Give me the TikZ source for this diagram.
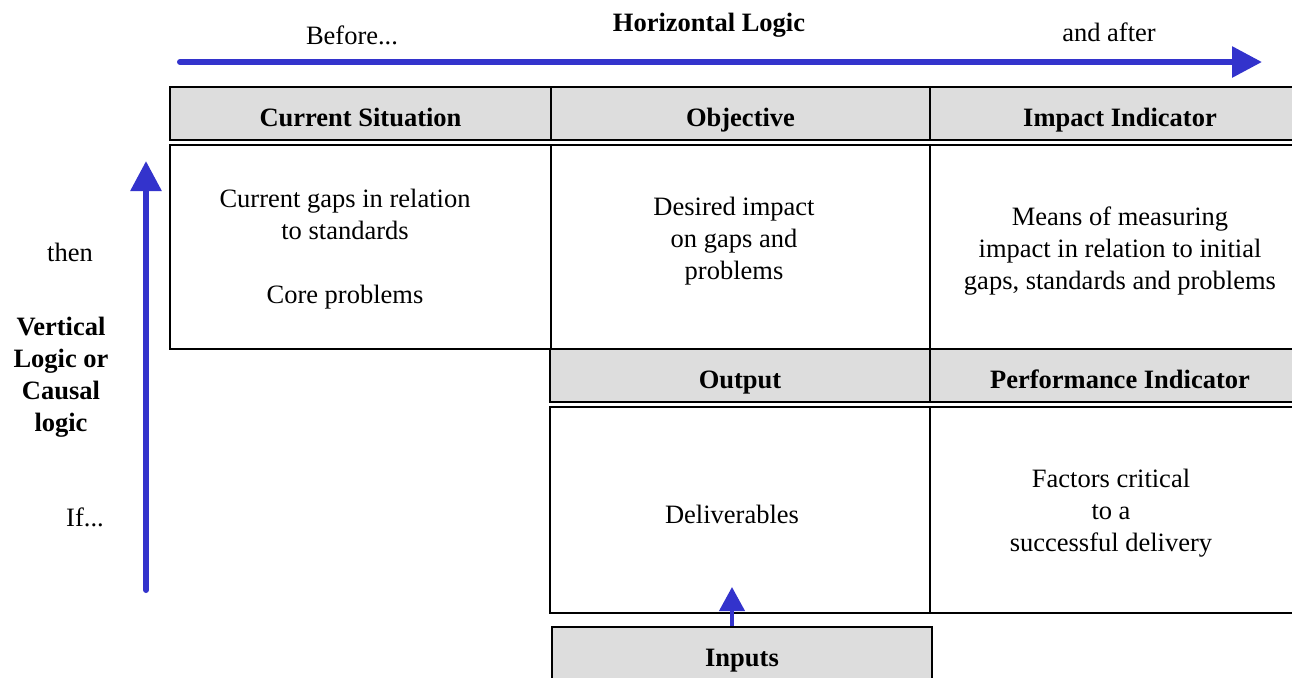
\documentclass[tikz,border=0pt]{standalone}
\usepackage{fontspec}
\setmainfont{Liberation Serif}
\usetikzlibrary{arrows.meta}
\definecolor{arrblue}{HTML}{3333CC}
\definecolor{hdrgrey}{HTML}{DDDDDD}
\tikzset{
  base/.style={font=\fontsize{13.25pt}{16pt}\selectfont},
  hdr/.style={base, draw=black, line width=1pt, fill=hdrgrey, inner sep=0pt,
    minimum height=26.5pt, text height=12.5pt, text depth=0pt,
    font=\fontsize{13.25pt}{16pt}\selectfont\bfseries},
  cell/.style={draw=black, line width=1pt, fill=white, inner sep=0pt},
  lbl/.style={base, align=center, inner sep=0pt},
  bigarr/.style={draw=arrblue, line width=3pt, line cap=round,
    -{Triangle[length=15pt,width=15pt]}},
  smallarr/.style={draw=arrblue, line width=2pt,
    -{Triangle[length=12pt,width=12.5pt]}}
}
\begin{document}
\begin{tikzpicture}[x=0.5pt,y=-0.5pt]
\useasboundingbox (0,0) rectangle (1292,677);
\clip (0,0) rectangle (1292,677);
% top labels
\node[lbl] (before) at (352,35) {Before...};
\node[lbl, font=\fontsize{13.25pt}{16pt}\selectfont\bfseries] (hlogic) at (709,25) {Horizontal Logic};
\node[lbl] (after) at (1109,32) {and after};
% horizontal arrow
\coordinate (hs) at (180,62);
\coordinate (he) at (1262,62);
\draw[bigarr] (hs) -- (he);
% header row
\node[hdr, minimum width=190.5pt] (cs) at (360.5,113.5) {Current Situation};
\node[hdr, minimum width=189.5pt] (obj) at (740.5,113.5) {Objective};
\node[hdr, minimum width=190pt] (imp) at (1120,113.5) {Impact Indicator};
% body row 1
\node[cell, minimum width=190.5pt, minimum height=102pt] (csb) at (360.5,247) {};
\node[cell, minimum width=189.5pt, minimum height=102pt] (objb) at (740.5,247) {};
\node[cell, minimum width=190pt, minimum height=102pt] (impb) at (1120,247) {};
\node[lbl] (cst) at (345,249) {Current gaps in relation\\to standards\\[16pt]Core problems};
\node[lbl] (objt) at (734,241) {Desired impact\\on gaps and\\problems};
\node[lbl] (impt) at (1120,251) {Means of measuring\\impact in relation to initial\\gaps, standards and problems};
% output header row
\node[hdr, minimum width=190pt] (out) at (740,375.5) {Output};
\node[hdr, minimum width=190pt] (perf) at (1120,375.5) {Performance Indicator};
% body row 2
\node[cell, minimum width=190pt, minimum height=103pt] (outb) at (740,510) {};
\node[cell, minimum width=190pt, minimum height=103pt] (perfb) at (1120,510) {};
\node[lbl] (outt) at (732,514) {Deliverables};
\node[lbl] (perft) at (1111,513) {Factors critical\\to a\\successful delivery};
% inputs
\node[hdr, minimum width=190pt] (inp) at (742,653.5) {Inputs};
\draw[smallarr] ([xshift=-5pt]inp.north) -- ++(0,-39);
% vertical arrow
\coordinate (vs) at (146,590);
\coordinate (ve) at (146,161);
\draw[bigarr] (vs) -- (ve);
% left labels
\node[lbl] (then) at (70,252) {then};
\node[lbl, font=\fontsize{13.25pt}{16pt}\selectfont\bfseries] (vlogic) at (61,377)
  {Vertical\\Logic or\\Causal\\logic};
\node[lbl] (if) at (85,517) {If...};
\end{tikzpicture}
\end{document}
